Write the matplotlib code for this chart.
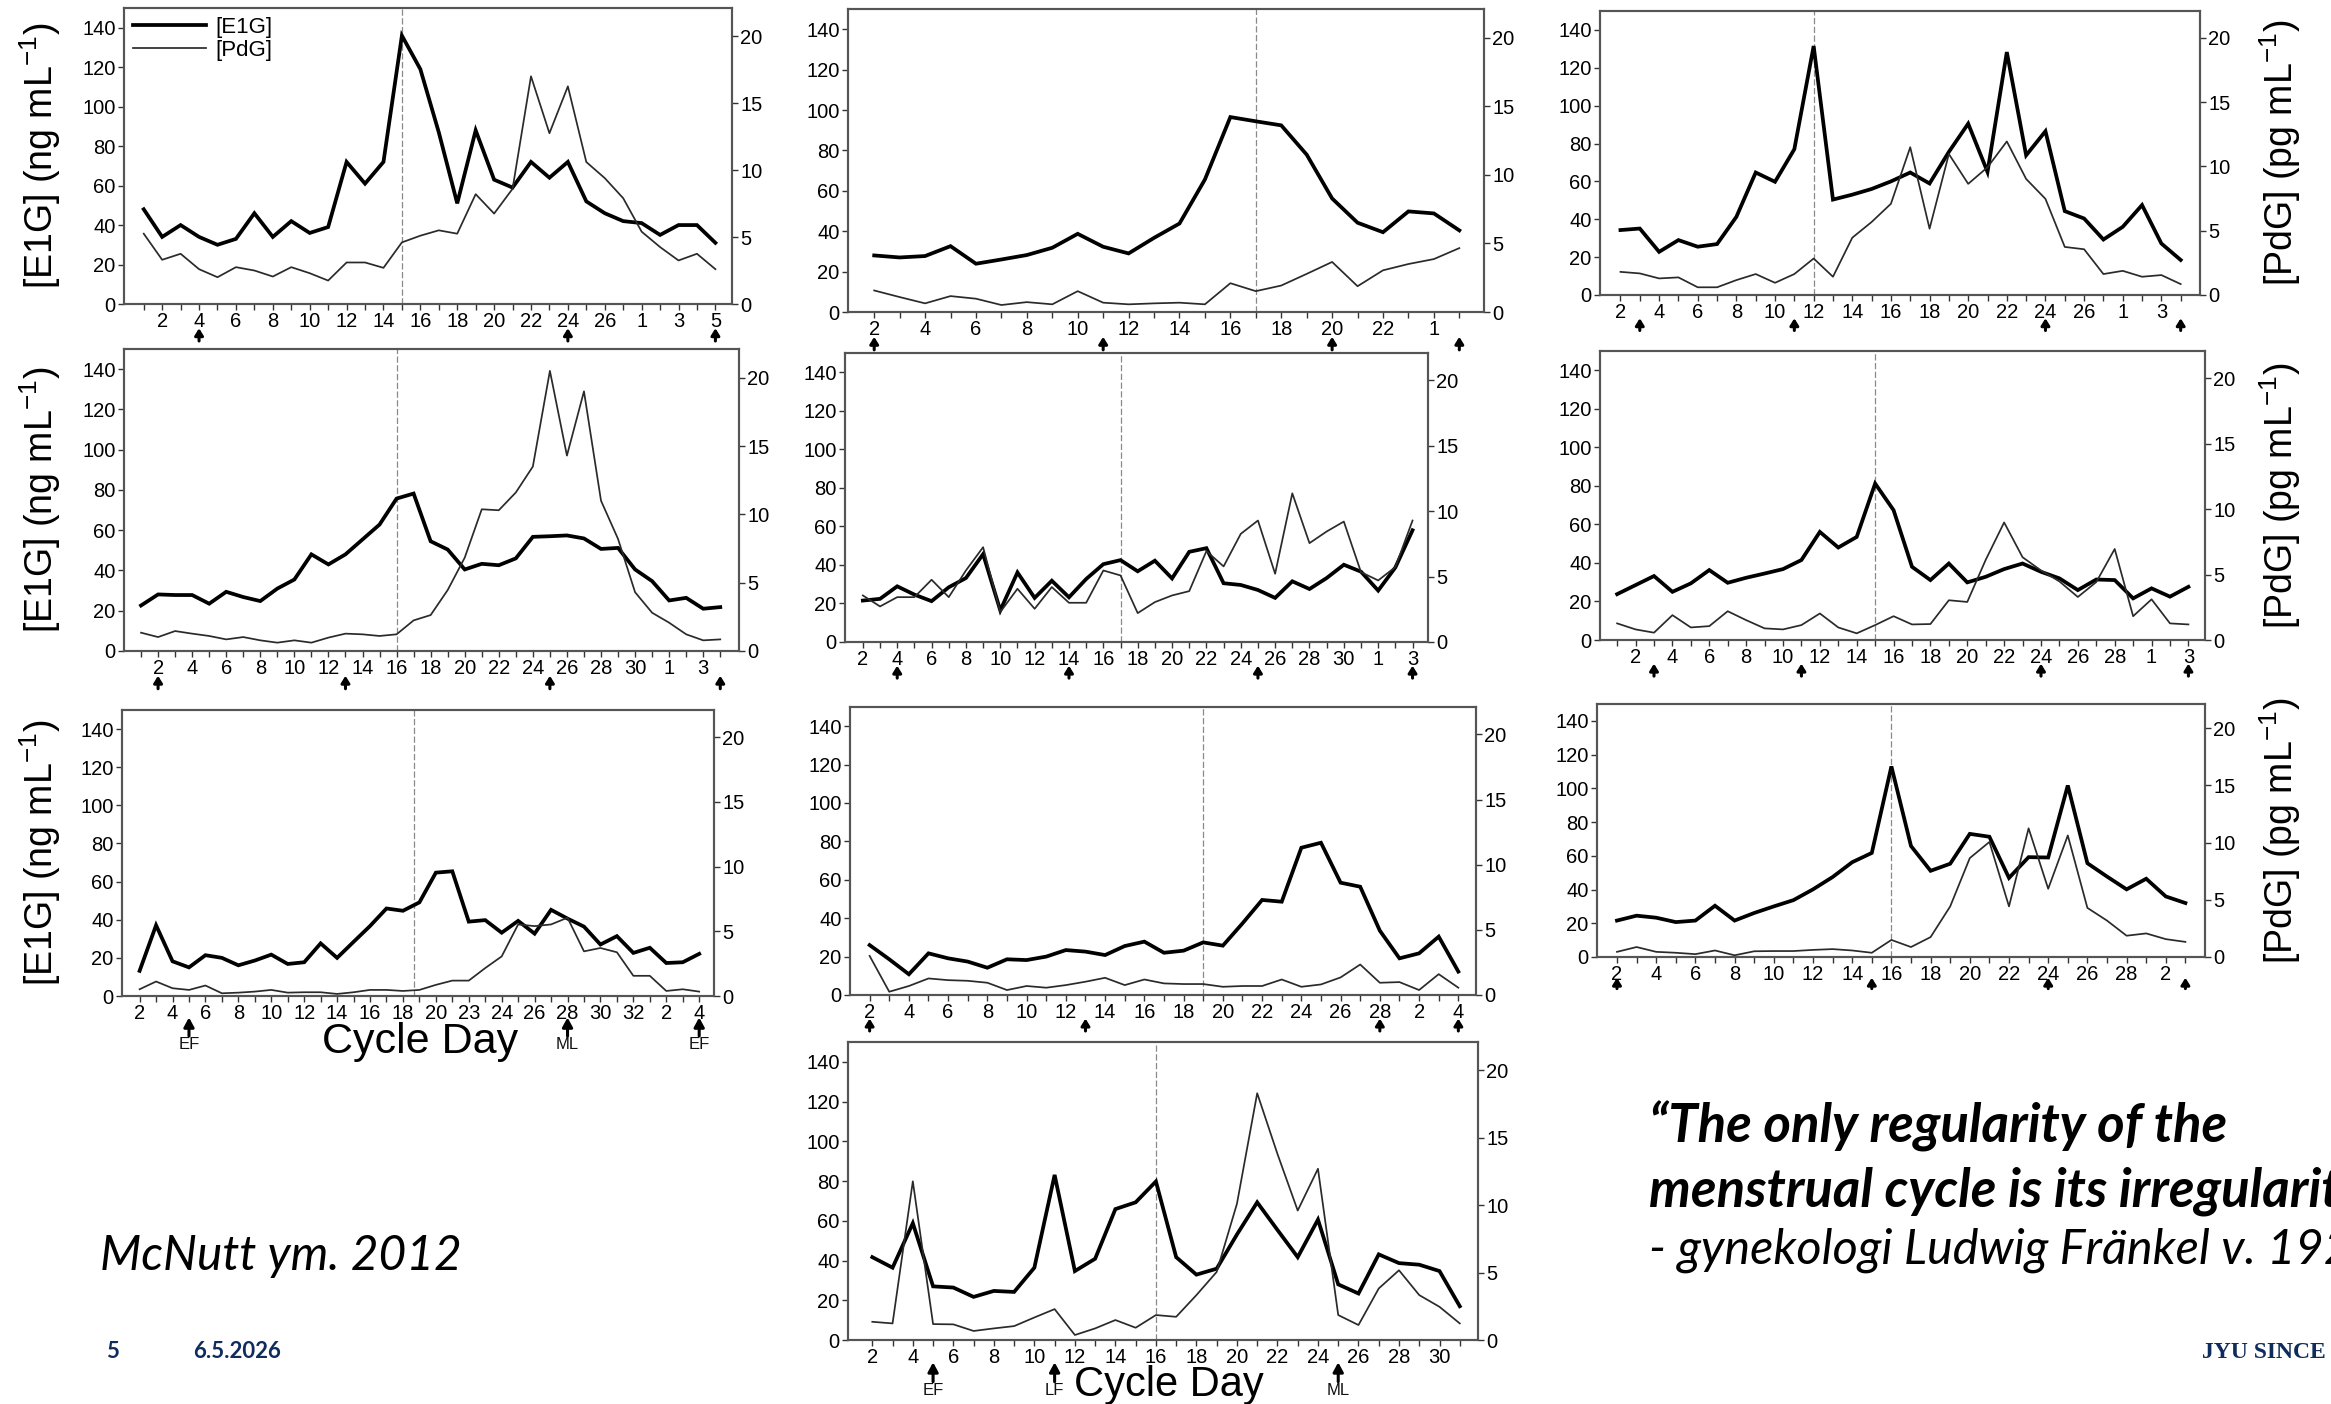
import matplotlib
matplotlib.use('Agg')
import matplotlib.pyplot as plt

plt.rcParams['font.family'] = ['Liberation Sans', 'DejaVu Sans']
plt.rcParams['mathtext.fontset'] = 'custom'
plt.rcParams['mathtext.rm'] = 'Liberation Sans'
plt.rcParams['mathtext.it'] = 'Liberation Sans:italic'
plt.rcParams['mathtext.bf'] = 'Liberation Sans:bold'

# ---------------- data ----------------
# Panel A
A_start = 1
A_e1g = [48, 34, 40, 34, 30, 33, 46, 34, 42, 36, 39, 72, 61, 72, 136, 119, 87, 51, 88, 63,
         59, 72, 64, 72, 52, 46, 42, 41, 35, 40, 40, 31]
A_pdg = [5.25, 3.3, 3.75, 2.6, 2.0, 2.75, 2.5, 2.05, 2.75, 2.3, 1.75, 3.1, 3.1, 2.7, 4.6, 5.1, 5.5, 5.25, 8.2, 6.75,
         8.6, 17.0, 12.75, 16.25, 10.6, 9.4, 7.9, 5.4, 4.25, 3.25, 3.75, 2.6]
A_labels = ['2', '4', '6', '8', '10', '12', '14', '16', '18', '20', '22', '24', '26', '1', '3', '5']
A_vline = 15
A_arrows = [4, 24, 32]

# Panel B
B_start = 2
B_e1g = [28, 27, 27.7, 32.6, 23.9, 26, 28.2, 31.8, 38.7, 32.3, 29, 36.7, 43.8, 65.6, 96.5, 94.4, 92.4, 77.9, 56.2, 44.2,
         39.5, 49.8, 48.8, 40.4]
B_pdg = [1.57, 1.09, 0.63, 1.16, 0.97, 0.51, 0.72, 0.56, 1.52, 0.68, 0.56, 0.63, 0.68, 0.56, 2.1, 1.52, 1.93, 2.78, 3.65, 1.88,
         3.04, 3.5, 3.86, 4.66]
B_labels = ['2', '4', '6', '8', '10', '12', '14', '16', '18', '20', '22', '1']
B_vline = 17
B_arrows = [2, 11, 20, 25]

# Panel C
C_start = 2
C_e1g = [34.3, 35.1, 22.8, 29, 25.5, 26.9, 41.3, 64.7, 59.8, 77, 131.5, 50.4, 53, 56, 60, 64.7, 58.9, 75.6, 90.5, 65,
         128.3, 73.8, 86.5, 44.3, 40.4, 29.3, 36, 47.5, 27.2, 18.5]
C_pdg = [1.8, 1.68, 1.29, 1.37, 0.6, 0.6, 1.16, 1.63, 0.95, 1.63, 2.84, 1.42, 4.46, 5.68, 7.1, 11.5, 5.16, 10.97, 8.65, 9.94,
         11.95, 9.03, 7.48, 3.74, 3.56, 1.63, 1.88, 1.42, 1.55, 0.85]
C_labels = ['2', '4', '6', '8', '10', '12', '14', '16', '18', '20', '22', '24', '26', '1', '3']
C_vline = 12
C_arrows = [3, 11, 24, 31]

# Panel D
D_start = 1
D_e1g = [22.6, 28.1, 27.8, 27.8, 23.5, 29.4, 26.8, 24.8, 31, 35.5, 48, 43, 48, 55.4, 62.8, 75.7, 78.2, 54.5, 50.4, 40.5,
         43.3, 42.6, 46, 56.7, 57, 57.4, 55.9, 50.7, 51.2, 40.5, 34.7, 25.1, 26.4, 21, 21.8]
D_pdg = [1.34, 1.02, 1.46, 1.27, 1.1, 0.85, 1.02, 0.78, 0.61, 0.78, 0.61, 0.98, 1.27, 1.22, 1.1, 1.22, 2.24, 2.63, 4.46, 6.83,
         10.37, 10.3, 11.6, 13.5, 20.5, 14.3, 19, 11, 8.2, 4.3, 2.8, 2.07, 1.22, 0.78, 0.85]
D_labels = ['2', '4', '6', '8', '10', '12', '14', '16', '18', '20', '22', '24', '26', '28', '30', '1', '3']
D_vline = 16
D_arrows = [2, 13, 25, 35]

# Panel E
E_start = 2
E_e1g = [21.5, 22.4, 28.9, 24.6, 21.2, 28.4, 33.2, 45.6, 16.4, 36.1, 22.9, 31.8, 23.2, 32.7, 40.4, 42.5, 36.7, 42.2, 33, 46.8,
         48.7, 30.5, 29.6, 27, 22.9, 31.5, 27.5, 33.2, 40.1, 36.5, 26.7, 38.7, 58]
E_pdg = [3.56, 2.72, 3.43, 3.43, 4.76, 3.43, 5.47, 7.25, 2.29, 4.07, 2.54, 4.2, 3, 3, 5.47, 5.09, 2.21, 3.05, 3.56, 3.89,
         6.95, 5.78, 8.27, 9.29, 5.22, 11.37, 7.56, 8.45, 9.21, 5.34, 4.71, 5.73, 9.29]
E_labels = ['2', '4', '6', '8', '10', '12', '14', '16', '18', '20', '22', '24', '26', '28', '30', '1', '3']
E_vline = 17
E_arrows = [4, 14, 25, 34]

# Panel F
F_start = 1
F_e1g = [23.8, 28.5, 33.2, 25, 29.4, 36.3, 29.7, 32.3, 34.5, 36.8, 41.5, 56.1, 48, 53.5, 81.2, 67.4, 38, 31.1, 39.7, 29.9,
         32.8, 36.8, 39.7, 35.4, 32, 25.9, 31.4, 31.1, 21.6, 26.8, 22.5, 27.6]
F_pdg = [1.27, 0.81, 0.56, 1.9, 0.96, 1.06, 2.2, 1.52, 0.89, 0.81, 1.14, 2.03, 0.96, 0.51, 1.14, 1.82, 1.19, 1.22, 3.04, 2.91,
         6.13, 8.99, 6.33, 5.32, 4.48, 3.29, 4.43, 6.96, 1.82, 3.11, 1.27, 1.19]
F_labels = ['2', '4', '6', '8', '10', '12', '14', '16', '18', '20', '22', '24', '26', '28', '1', '3']
F_vline = 15
F_arrows = [3, 11, 24, 32]

# Panel G
G_start = 2
G_e1g = [13.2, 37.1, 18.2, 15, 21.4, 20, 16.1, 18.6, 21.7, 16.8, 17.7, 27.6, 20, 28.4, 36.7, 45.9, 44.7, 49.1, 64.7, 65.4,
         39, 39.8, 33.2, 39.4, 32.7, 45.2, 40.6, 36.4, 27, 31.4, 22.6, 25.3, 17.3, 17.7, 22.1]
G_pdg = [0.52, 1.12, 0.6, 0.47, 0.81, 0.21, 0.26, 0.34, 0.47, 0.26, 0.29, 0.29, 0.16, 0.29, 0.47, 0.47, 0.39, 0.47, 0.86, 1.19,
         1.19, 2.16, 3.06, 5.53, 5.4, 5.53, 6.05, 3.45, 3.71, 3.38, 1.56, 1.56, 0.39, 0.52, 0.34]
G_labels = ['2', '4', '6', '8', '10', '12', '14', '16', '18', '20', '23', '24', '26', '28', '30', '32', '2', '4']
G_vline = 18.7
G_arrows = [5, 28, 36]
G_arrow_text = ['EF', 'ML', 'EF']

# Panel H
H_start = 2
H_e1g = [26, 18.6, 10.8, 21.7, 19.1, 17.4, 14.2, 18.6, 18.2, 20, 23.4, 22.6, 20.8, 25.5, 27.8, 22, 23.1, 27.4, 25.7, 37.3,
         49.5, 48.6, 76.7, 79.3, 58.5, 56.4, 33.5, 19.1, 21.7, 30.4, 12.2]
H_pdg = [3.0, 0.25, 0.69, 1.27, 1.14, 1.09, 0.94, 0.38, 0.69, 0.56, 0.76, 1.02, 1.32, 0.76, 1.19, 0.89, 0.84, 0.84, 0.63, 0.69,
         0.69, 1.19, 0.63, 0.81, 1.35, 2.34, 0.94, 0.99, 0.38, 1.6, 0.56]
H_labels = ['2', '4', '6', '8', '10', '12', '14', '16', '18', '20', '22', '24', '26', '28', '2', '4']
H_vline = 19
H_arrows = [2, 13, 28, 32]

# Panel I
I_start = 2
I_e1g = [21.6, 24.5, 23.3, 20.7, 21.6, 30.4, 21.6, 26.1, 30, 33.7, 40.1, 47.4, 56.2, 61.7, 113, 65.8, 51.1, 55.3, 73, 71.3,
         46.9, 59.2, 59, 101.7, 55.6, 47.7, 40.1, 46.4, 35.9, 32]
I_pdg = [0.45, 0.87, 0.45, 0.37, 0.25, 0.57, 0.15, 0.5, 0.52, 0.52, 0.62, 0.69, 0.57, 0.37, 1.49, 0.87, 1.74, 4.42, 8.64, 10.05,
         4.42, 11.24, 5.96, 10.62, 4.29, 3.18, 1.86, 2.06, 1.56, 1.32]
I_labels = ['2', '4', '6', '8', '10', '12', '14', '16', '18', '20', '22', '24', '26', '28', '2']
I_vline = 16
I_arrows = [2, 15, 24, 31]

# Panel J
J_start = 2
J_e1g = [41.7, 36.4, 58.8, 27, 26.4, 21.7, 24.7, 24.2, 36.4, 83.1, 34.7, 40.9, 65.9, 69.3, 79.8, 41.7, 32.9, 35.9, 53.1, 69.3,
         55.4, 41.7, 60.6, 28, 23.4, 43.1, 38.7, 37.9, 34.7, 17]
J_pdg = [1.35, 1.23, 11.77, 1.18, 1.16, 0.67, 0.86, 1.03, 1.67, 2.29, 0.37, 0.86, 1.48, 0.91, 1.85, 1.72, 3.33, 5.05, 10.1, 18.3,
         13.8, 9.6, 12.7, 1.85, 1.11, 3.82, 5.17, 3.33, 2.46, 1.23]
J_labels = ['2', '4', '6', '8', '10', '12', '14', '16', '18', '20', '22', '24', '26', '28', '30']
J_vline = 16
J_arrows = [5, 11, 25]
J_arrow_text = ['EF', 'LF', 'ML']

left_ticks = [0, 20, 40, 60, 80, 100, 120, 140]
right_ticks = [0, 5, 10, 15, 20]

# ---------------- layout (pixels in a 2331x1404 canvas) ----------------
W, H = 2331, 1404
fig = plt.figure(figsize=(W / 100, H / 100), dpi=100)
fig.patch.set_facecolor('white')

def frac_rect(l, r, t, b):
    return [l / W, 1 - b / H, (r - l) / W, (b - t) / H]

def fx(x):
    return x / W

def fy(y):
    return 1 - y / H

panels = [
    dict(e=A_e1g, p=A_pdg, s=A_start, lab=A_labels, vl=A_vline, arr=A_arrows, atx=None,
         box=(124, 732, 8, 304), xlim=(-0.07, 32.9), ylab='L', legend=True),
    dict(e=B_e1g, p=B_pdg, s=B_start, lab=B_labels, vl=B_vline, arr=B_arrows, atx=None,
         box=(848, 1484, 9, 312), xlim=(0.97, 25.97)),
    dict(e=C_e1g, p=C_pdg, s=C_start, lab=C_labels, vl=C_vline, arr=C_arrows, atx=None,
         box=(1600, 2200, 11, 295), xlim=(0.94, 32.0), ylab='R'),
    dict(e=D_e1g, p=D_pdg, s=D_start, lab=D_labels, vl=D_vline, arr=D_arrows, atx=None,
         box=(124, 739, 349, 651), xlim=(0.0, 36.1), ylab='L'),
    dict(e=E_e1g, p=E_pdg, s=E_start, lab=E_labels, vl=E_vline, arr=E_arrows, atx=None,
         box=(845, 1428, 353, 642), xlim=(0.96, 34.9)),
    dict(e=F_e1g, p=F_pdg, s=F_start, lab=F_labels, vl=F_vline, arr=F_arrows, atx=None,
         box=(1600, 2205, 351, 640), xlim=(0.07, 32.9), ylab='R'),
    dict(e=G_e1g, p=G_pdg, s=G_start, lab=G_labels, vl=G_vline, arr=G_arrows, atx=G_arrow_text,
         box=(122, 714, 710, 996), xlim=(0.93, 36.9), ylab='L'),
    dict(e=H_e1g, p=H_pdg, s=H_start, lab=H_labels, vl=H_vline, arr=H_arrows, atx=None,
         box=(850, 1476, 707, 995), xlim=(1.0, 32.9)),
    dict(e=I_e1g, p=I_pdg, s=I_start, lab=I_labels, vl=I_vline, arr=I_arrows, atx=None,
         box=(1597, 2205, 704, 957), xlim=(0.98, 32.0), ylab='R'),
    dict(e=J_e1g, p=J_pdg, s=J_start, lab=J_labels, vl=J_vline, arr=J_arrows, atx=J_arrow_text,
         box=(848, 1478, 1042, 1340), xlim=(0.8, 31.9)),
]

TICK_FS = 14.5
SPINE_C = '#555555'

for P in panels:
    l, r, t, b = P['box']
    ax = fig.add_axes(frac_rect(l, r, t, b))
    ax2 = ax.twinx()
    n = len(P['e'])
    xs = list(range(P['s'], P['s'] + n))

    ax.set_xlim(*P['xlim'])
    ax.set_ylim(0, 150)
    ax2.set_ylim(0, 22.1)

    ax.axvline(P['vl'], color='#8a8a8a', lw=0.9, ls=(0, (5, 2)), zorder=1)
    l1, = ax.plot(xs, P['e'], color='black', lw=2.7, solid_joinstyle='miter', zorder=3)
    l2, = ax2.plot(xs, P['p'], color='#2a2a2a', lw=1.25, zorder=2)

    # x ticks: every sample, labels on even positions
    ax.set_xticks(xs)
    even_pos = list(range(2, 2 + 2 * len(P['lab']), 2))
    lab_map = dict(zip(even_pos, P['lab']))
    ax.set_xticklabels([lab_map.get(x, '') for x in xs])

    ax.set_yticks(left_ticks)
    ax2.set_yticks(right_ticks)

    for a in (ax, ax2):
        for sp in a.spines.values():
            sp.set_color(SPINE_C)
            sp.set_linewidth(1.5)
        a.tick_params(direction='out', length=4, width=1.0, color='#333333',
                      labelsize=TICK_FS, pad=2)
    ax.tick_params(axis='x', length=4, pad=2)

    # arrows under the axis
    trans = ax.get_xaxis_transform()
    big = P['atx'] is not None
    for k, xa in enumerate(P['arr']):
        if big:
            y_head, y_tail = -0.075, -0.14
            hw = 'head_width=0.3,head_length=0.55'
        else:
            y_head, y_tail = -0.082, -0.125
            hw = 'head_width=0.25,head_length=0.4'
        ax.annotate('', xy=(xa, y_head), xycoords=trans, xytext=(xa, y_tail), textcoords=trans,
                    arrowprops=dict(arrowstyle='-|>,' + hw, color='black', lw=2.2,
                                    shrinkA=0, shrinkB=0),
                    annotation_clip=False)
        if big:
            ax.text(xa, -0.145, P['atx'][k], transform=trans, ha='center', va='top',
                    fontsize=12, color='#111111')

    cy = (t + b) / 2
    if P.get('ylab') == 'L':
        fig.text(fx(40), fy(cy), r'[E1G] (ng mL$^{\mathrm{-1}}$)', rotation=90,
                 ha='center', va='center', fontsize=27)
    if P.get('ylab') == 'R':
        fig.text(fx(2280), fy(cy), r'[PdG] (pg mL$^{\mathrm{-1}}$)', rotation=90,
                 ha='center', va='center', fontsize=27)

    if P.get('legend'):
        ax.legend([l1, l2], ['[E1G]', '[PdG]'], loc='upper left', bbox_to_anchor=(0.0, 1.0),
                  frameon=False, fontsize=16, handlelength=3.3, handletextpad=0.4,
                  labelspacing=0.1, borderpad=0.25, borderaxespad=0.15)

# "Cycle Day" axis titles
fig.text(fx(420), fy(1042), 'Cycle Day', ha='center', va='center', fontsize=31)
fig.text(fx(1169), fy(1385), 'Cycle Day', ha='center', va='center', fontsize=30)

# slide texts
fig.text(fx(100), fy(1270), 'McNutt ym. 2012', family='Lato', style='italic',
         fontsize=34.5, ha='left', va='baseline', color='black')
fig.text(fx(1649), fy(1143), '\u201cThe only regularity of the', family='Lato', style='italic',
         weight='bold', fontsize=38, ha='left', va='baseline', color='black')
fig.text(fx(1649), fy(1207), 'menstrual cycle is its irregularity\u201d', family='Lato', style='italic',
         weight='bold', fontsize=38, ha='left', va='baseline', color='black')
fig.text(fx(1649), fy(1264), '- gynekologi Ludwig Fr\u00e4nkel v. 1929', family='Lato', style='italic',
         fontsize=35, ha='left', va='baseline', color='black')

NAVY = '#0e2d5c'
fig.text(fx(106), fy(1358), '5', family='Lato', weight='bold', fontsize=16, color=NAVY,
         ha='left', va='baseline')
fig.text(fx(193), fy(1358), '6.5.2026', family='Lato', weight='bold', fontsize=16, color=NAVY,
         ha='left', va='baseline')
fig.text(fx(2202), fy(1358), 'JYU SINCE 1863.', family='Liberation Serif', weight='bold',
         fontsize=17, color=NAVY, ha='left', va='baseline')

fig.savefig('out.png', dpi=100, facecolor='white')
